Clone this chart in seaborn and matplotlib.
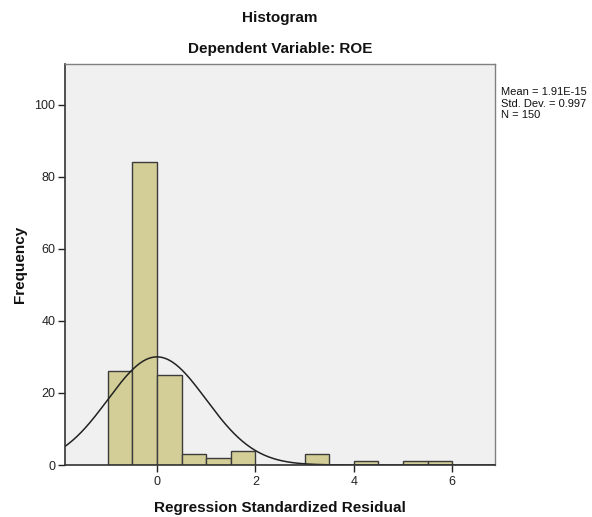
import numpy as np
import pandas as pd
import matplotlib
matplotlib.use("Agg")
import matplotlib.pyplot as plt
import seaborn as sns

# Data
bin_edges = [-1.0, -0.5, 0.0, 0.5, 1.0, 1.5, 2.0, 2.5, 3.0, 3.5, 4.0, 4.5, 5.0, 5.5, 6.0]
bin_counts = [26, 84, 25, 3, 2, 4, 0, 0, 3, 0, 1, 0, 1, 1]
mean_val = 1.91e-15
std_val = 0.997
n_obs = 150
x_ticks = [0, 2, 4, 6]
y_ticks = [0, 20, 40, 60, 80, 100]

sns.set_theme(style="white")
plt.rcParams['font.family'] = ['Liberation Sans', 'DejaVu Sans']

centers = [(a + b) / 2 for a, b in zip(bin_edges[:-1], bin_edges[1:])]
df = pd.DataFrame({"resid": centers, "count": bin_counts})

fig = plt.figure(figsize=(5.92, 5.17), dpi=100)
ax = fig.add_axes([65 / 592, 1 - 465 / 517, 430 / 592, 401 / 517])
ax.set_facecolor("#F0F0F0")

sns.histplot(data=df, x="resid", weights="count", bins=bin_edges, ax=ax,
             color="#D3CE97", edgecolor="#3C3C3C", linewidth=1.0, alpha=1.0)

xlim = (-1.87, 6.87)
xs = np.linspace(xlim[0], xlim[1], 400)
bw = bin_edges[1] - bin_edges[0]
ys = n_obs * bw * np.exp(-0.5 * ((xs - mean_val) / std_val) ** 2) / (std_val * np.sqrt(2 * np.pi))
sns.lineplot(x=xs, y=ys, ax=ax, color="#222222", linewidth=1.1)

ax.set_xlim(*xlim)
ax.set_ylim(0, 111.3)
ax.set_xticks(x_ticks)
ax.set_yticks(y_ticks)
ax.tick_params(axis="both", which="both", direction="out", length=5, width=1,
               colors="#222222", labelsize=9, bottom=True, left=True, top=False, right=False,
               pad=2)
ax.tick_params(axis="x", pad=3)

for side in ["left", "bottom"]:
    ax.spines[side].set_color("#333333")
    ax.spines[side].set_linewidth(1.2)
for side in ["top", "right"]:
    ax.spines[side].set_color("#808080")
    ax.spines[side].set_linewidth(1.0)

ax.set_xlabel("Regression Standardized Residual", fontsize=11, fontweight="bold",
              color="#111111", labelpad=9)
ax.set_ylabel("Frequency", fontsize=11, fontweight="bold", color="#111111", labelpad=5)

fig.text(280 / 592, 1 - 18 / 517, "Histogram", ha="center", va="center",
         fontsize=11, fontweight="bold", color="#111111")
fig.text(280 / 592, 1 - 49 / 517, "Dependent Variable: ROE", ha="center", va="center",
         fontsize=11, fontweight="bold", color="#111111")

fig.text(501 / 592, 1 - 87 / 517,
         f"Mean = 1.91E-15\nStd. Dev. = {std_val}\nN = {n_obs}",
         ha="left", va="top", fontsize=8, color="#111111", linespacing=1.2)

fig.savefig("out.png", dpi=100, facecolor="white")
